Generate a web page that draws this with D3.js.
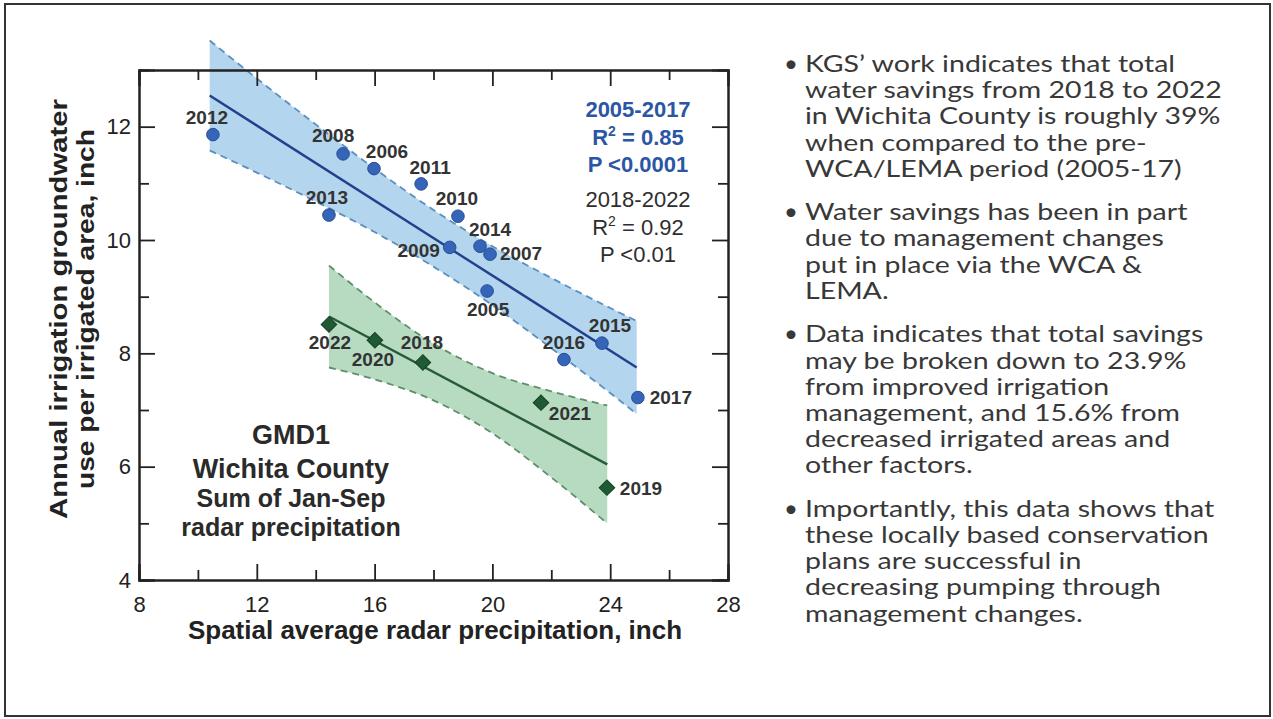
<!DOCTYPE html>
<html>
<head>
<meta charset="utf-8">
<script src="https://cdn.jsdelivr.net/npm/d3@7"></script>
<style>
  body { margin: 0; background: #fff; }
  svg { display: block; }
</style>
</head>
<body>
<div id="chart"></div>
<script>
// values
const xTicks = [8, 12, 16, 20, 24, 28];
const xMinor = [10, 14, 18, 22, 26];
const yTicks = [4, 6, 8, 10, 12];
const yMinor = [5, 7, 9, 11];

// 2005-2017 (blue circles)
const blueYears = ["2012", "2008", "2006", "2011", "2013", "2009", "2010", "2014", "2007", "2005", "2015", "2016", "2017"];
const blueX = [10.51, 14.93, 15.98, 17.58, 14.45, 18.55, 18.83, 19.58, 19.92, 19.82, 23.72, 22.43, 24.94];
const blueY = [11.86, 11.52, 11.26, 10.99, 10.44, 9.87, 10.42, 9.89, 9.75, 9.10, 8.18, 7.89, 7.22];

// 2018-2022 (green diamonds)
const greenYears = ["2022", "2020", "2018", "2021", "2019"];
const greenX = [14.45, 16.01, 17.64, 21.65, 23.89];
const greenY = [8.51, 8.23, 7.84, 7.13, 5.63];

// fitted lines (end points) and confidence bands
const blueFitX = [10.4, 24.9];
const blueFitY = [12.55, 7.75];
const blueBandX = [10.4, 12, 14, 16, 18, 20, 22, 24, 24.9];
const blueBandLo = [11.58, 11.19, 10.68, 10.14, 9.53, 8.85, 8.09, 7.30, 6.93];
const blueBandHi = [13.52, 12.85, 12.04, 11.26, 10.53, 9.89, 9.33, 8.80, 8.57];

const greenFitX = [14.45, 23.9];
const greenFitY = [8.65, 6.04];
const greenBandX = [14.45, 16, 18, 20, 22, 23.9];
const greenBandLo = [7.75, 7.54, 7.17, 6.59, 5.81, 5.00];
const greenBandHi = [9.55, 8.90, 8.17, 7.65, 7.33, 7.08];

const bullets = [
    ["KGS’ work indicates that total", "water savings from 2018 to 2022", "in Wichita County is roughly 39%", "when compared to the pre-", "WCA/LEMA period (2005-17)"],
    ["Water savings has been in part", "due to management changes", "put in place via the WCA &", "LEMA."],
    ["Data indicates that total savings", "may be broken down to 23.9%", "from improved irrigation", "management, and 15.6% from", "decreased irrigated areas and", "other factors."],
    ["Importantly, this data shows that", "these locally based conservation", "plans are successful in", "decreasing pumping through", "management changes."]
];

// label offsets from their marker (layout only)
const labelOffset = {
    "2012": [-6, -11], "2008": [-10, -12], "2006": [13, -11], "2011": [9, -10],
    "2013": [-2, -11], "2009": [-31, 10], "2010": [-1, -11], "2014": [10, -10],
    "2007": [31, 6], "2005": [1, 25], "2015": [8, -11], "2016": [0, -11], "2017": [33, 6],
    "2022": [1, 25], "2020": [-2, 26], "2018": [-1, -13], "2021": [29, 17], "2019": [34, 7]
};

const width = 1273, height = 719;
const svg = d3.select("#chart").append("svg")
    .attr("width", width)
    .attr("height", height);

// outer frame
svg.append("rect")
    .attr("x", 5).attr("y", 4)
    .attr("width", 1265).attr("height", 712)
    .attr("fill", "none")
    .attr("stroke", "#333")
    .attr("stroke-width", 2);

const plot = { left: 139, right: 728, top: 70, bottom: 580 };
const x = d3.scaleLinear().domain([8, 28]).range([plot.left, plot.right]);
const y = d3.scaleLinear().domain([4, 13]).range([plot.bottom, plot.top]);

const font = "'Liberation Sans', Arial, sans-serif";

// confidence bands
function drawBand(bx, lo, hi, fill, edge) {
    const pts = bx.map((v, i) => ({ x: v, lo: lo[i], hi: hi[i] }));
    svg.append("path")
        .datum(pts)
        .attr("d", d3.area().x(d => x(d.x)).y0(d => y(d.lo)).y1(d => y(d.hi)).curve(d3.curveMonotoneX))
        .attr("fill", fill);
    ["lo", "hi"].forEach(k => {
        svg.append("path")
            .datum(pts)
            .attr("d", d3.line().x(d => x(d.x)).y(d => y(d[k])).curve(d3.curveMonotoneX))
            .attr("fill", "none")
            .attr("stroke", edge)
            .attr("stroke-width", 1.8)
            .attr("stroke-dasharray", "7,5");
    });
}
drawBand(blueBandX, blueBandLo, blueBandHi, "#b3d5ee", "#5a8fbf");
drawBand(greenBandX, greenBandLo, greenBandHi, "#b7dbc1", "#5d8f69");

// fit lines
function drawFit(fx, fy, color) {
    svg.append("path")
        .datum(fx.map((v, i) => [v, fy[i]]))
        .attr("d", d3.line().x(d => x(d[0])).y(d => y(d[1])))
        .attr("stroke", color)
        .attr("stroke-width", 2.4)
        .attr("fill", "none");
}
drawFit(blueFitX, blueFitY, "#22408c");
drawFit(greenFitX, greenFitY, "#275a37");

// axes box with inward ticks
const axes = svg.append("g").attr("font-family", font);
function addAxis(gen, tx, ty, values, size, labels, pad) {
    const g = axes.append("g")
        .attr("transform", `translate(${tx},${ty})`)
        .call(gen.tickValues(values).tickSize(-size).tickPadding(pad || 8).tickFormat(labels ? d3.format("d") : ""));
    g.select(".domain").attr("stroke", "#222").attr("stroke-width", 2);
    g.selectAll(".tick line").attr("stroke", "#222").attr("stroke-width", 1.8);
    g.selectAll(".tick text").attr("fill", "#222").style("font-size", "22px");
    return g;
}
addAxis(d3.axisBottom(x), 0, plot.bottom, xTicks, 16, true, 16);
addAxis(d3.axisBottom(x), 0, plot.bottom, xMinor, 10, false);
addAxis(d3.axisTop(x), 0, plot.top, xTicks, 16, false);
addAxis(d3.axisTop(x), 0, plot.top, xMinor, 10, false);
addAxis(d3.axisLeft(y), plot.left, 0, yTicks, 16, true, 8);
addAxis(d3.axisLeft(y), plot.left, 0, yMinor, 10, false);
addAxis(d3.axisRight(y), plot.right, 0, yTicks, 16, false);
addAxis(d3.axisRight(y), plot.right, 0, yMinor, 10, false);

// markers
blueX.forEach((v, i) => {
    svg.append("circle")
        .attr("cx", x(v)).attr("cy", y(blueY[i]))
        .attr("r", 6.3)
        .attr("fill", "#3564b8")
        .attr("stroke", "#2a4f96")
        .attr("stroke-width", 1);
});
greenX.forEach((v, i) => {
    svg.append("path")
        .attr("transform", `translate(${x(v)},${y(greenY[i])}) rotate(45)`)
        .attr("d", "M-5.5,-5.5H5.5V5.5H-5.5Z")
        .attr("fill", "#1f5a34")
        .attr("stroke", "#163f25")
        .attr("stroke-width", 1);
});

// year labels
const labels = svg.append("g")
    .attr("font-family", font)
    .attr("font-weight", "bold")
    .attr("font-size", "19px")
    .attr("fill", "#333")
    .attr("text-anchor", "middle");
blueYears.forEach((yr, i) => {
    const o = labelOffset[yr];
    labels.append("text").attr("x", x(blueX[i]) + o[0]).attr("y", y(blueY[i]) + o[1]).text(yr);
});
greenYears.forEach((yr, i) => {
    const o = labelOffset[yr];
    labels.append("text").attr("x", x(greenX[i]) + o[0]).attr("y", y(greenY[i]) + o[1]).text(yr);
});

// statistics text
function statBlock(lines, y0, color, weight) {
    lines.forEach((l, i) => {
        const t = svg.append("text")
            .attr("x", 638).attr("y", y0 + i * 27.5)
            .attr("text-anchor", "middle")
            .attr("font-family", font)
            .attr("font-weight", weight)
            .attr("font-size", "22px")
            .attr("fill", color);
        if (typeof l === "object") {
            t.append("tspan").text("R");
            t.append("tspan").attr("dy", -9).attr("font-size", "14px").text("2");
            t.append("tspan").attr("dy", 9).text(l.rest);
        } else {
            t.text(l);
        }
    });
}
statBlock(["2005-2017", { rest: " = 0.85" }, "P <0.0001"], 117, "#2b56a4", "bold");
statBlock(["2018-2022", { rest: " = 0.92" }, "P <0.01"], 207, "#2e2e2e", "normal");

// county block
const county = svg.append("g")
    .attr("font-family", font)
    .attr("font-weight", "bold")
    .attr("fill", "#2a2a2a")
    .attr("text-anchor", "middle");
county.append("text").attr("x", 291).attr("y", 444).attr("font-size", "27px").text("GMD1");
county.append("text").attr("x", 291).attr("y", 478).attr("font-size", "27px").text("Wichita County");
county.append("text").attr("x", 291).attr("y", 507).attr("font-size", "25px").text("Sum of Jan-Sep");
county.append("text").attr("x", 291).attr("y", 536).attr("font-size", "25px").text("radar precipitation");

// axis titles
svg.append("text")
    .attr("x", 435).attr("y", 639)
    .attr("text-anchor", "middle")
    .attr("font-family", font).attr("font-weight", "bold")
    .attr("font-size", "26px").attr("fill", "#222")
    .text("Spatial average radar precipitation, inch");

const ytitle = svg.append("g")
    .attr("transform", "translate(0,309) rotate(-90)")
    .attr("font-family", font).attr("font-weight", "bold")
    .attr("font-size", "24px").attr("fill", "#222")
    .attr("text-anchor", "middle");
ytitle.append("text").attr("x", 0).attr("y", 67)
    .attr("textLength", 420).attr("lengthAdjust", "spacingAndGlyphs")
    .text("Annual irrigation groundwater");
ytitle.append("text").attr("x", 0).attr("y", 94)
    .attr("textLength", 360).attr("lengthAdjust", "spacingAndGlyphs")
    .text("use per irrigated area, inch");

// bullet text on the right
const notes = svg.append("g")
    .attr("font-family", "Lato, 'Open Sans', sans-serif")
    .attr("font-size", "24px")
    .attr("fill", "#383838");
let base = 72;
const lineGap = 26.2, paraGap = 43.5;
const noteLines = [];
bullets.forEach((para, p) => {
    if (p > 0) base += paraGap - lineGap;
    notes.append("text").attr("x", 784).attr("y", base).text("•");
    para.forEach(line => {
        noteLines.push(notes.append("text").attr("x", 0).attr("y", base).text(line));
        base += lineGap;
    });
});
// the reference text is narrow; squeeze it to the measured width
const refLen = noteLines[1].node().getComputedTextLength();
const sx = 417 / refLen;
noteLines.forEach(t => t.attr("transform", `translate(805,0) scale(${sx},1)`));
</script>
</body>
</html>
